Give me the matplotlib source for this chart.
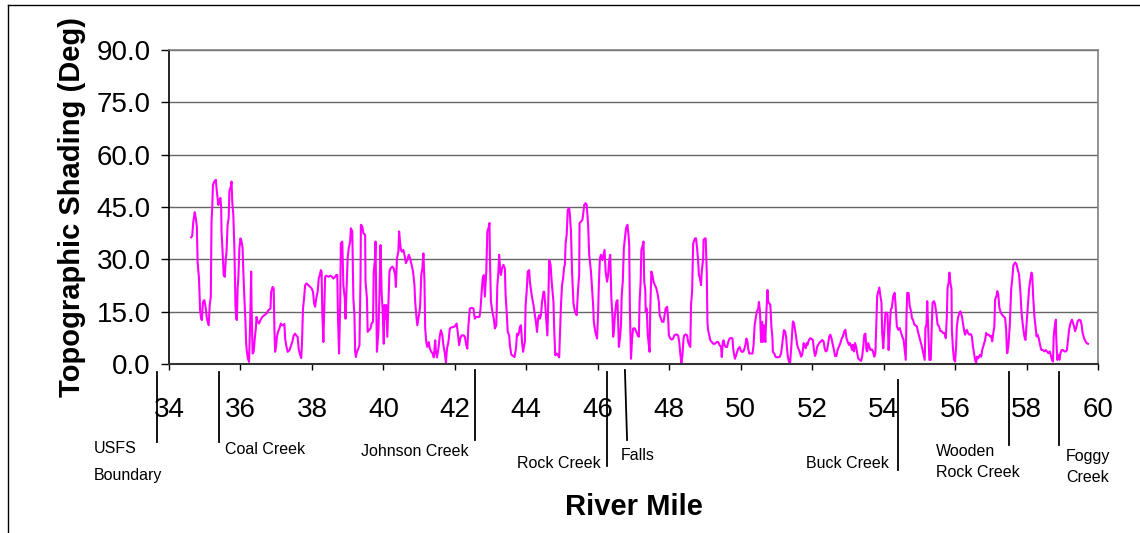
import matplotlib
matplotlib.use("Agg")
import matplotlib.pyplot as plt
from matplotlib.transforms import blended_transform_factory
from matplotlib.lines import Line2D

plt.rcParams['font.family'] = ['Liberation Sans', 'DejaVu Sans']

# ---------------- data: river mile vs topographic shading (deg) ----------------
mile_a = [34.62, 34.65, 34.68, 34.72, 34.75, 34.78, 34.80, 34.84, 34.87, 34.90, 34.92, 34.95, 34.99,
          35.03, 35.06, 35.11, 35.14, 35.17, 35.19, 35.21, 35.23, 35.27, 35.31, 35.33, 35.36, 35.38,
          35.41, 35.44, 35.46, 35.47, 35.50, 35.53, 35.56, 35.59, 35.61, 35.64, 35.67, 35.69, 35.73,
          35.75, 35.77, 35.80, 35.83, 35.86, 35.88, 35.90, 35.92, 35.94, 35.97, 36.00, 36.03, 36.06,
          36.08, 36.11, 36.14, 36.16, 36.18, 36.21, 36.24, 36.27, 36.30, 36.31, 36.34, 36.37, 36.40,
          36.43, 36.45, 36.48, 36.52, 36.56, 36.61, 36.67, 36.73, 36.78, 36.84, 36.86, 36.90, 36.93,
          36.95, 36.97, 37.00, 37.02, 37.05, 37.09, 37.13, 37.16, 37.20, 37.23, 37.25, 37.28, 37.32,
          37.37, 37.42, 37.45, 37.49, 37.53, 37.56, 37.60, 37.63, 37.66, 37.70, 37.72, 37.75, 37.78,
          37.81, 37.85, 37.90, 37.95, 37.99, 38.03, 38.06, 38.09, 38.12, 38.16, 38.19, 38.22, 38.25,
          38.27, 38.29, 38.32, 38.35, 38.37, 38.40, 38.46, 38.52, 38.56, 38.60]
shade_a = [36.3, 36.7, 40.8, 43.5, 41.8, 39.4, 29.3, 24.5, 15.4, 13.0, 12.6, 17.8, 18.3,
           15.9, 13.0, 11.1, 16.9, 19.3, 40.8, 44.7, 51.4, 52.3, 52.8, 50.4, 47.6, 45.6,
           47.0, 47.6, 44.7, 38.0, 32.2, 25.5, 25.0, 30.3, 32.2, 39.9, 41.8, 49.5, 50.9,
           52.3, 46.6, 42.8, 33.2, 16.9, 13.0, 12.6, 21.7, 24.5, 33.2, 36.0, 35.1, 33.2,
           26.5, 18.8, 12.1, 5.8, 3.5, 1.5, 0.6, 11.1, 26.5, 16.9, 3.0, 3.5, 7.3,
           10.2, 13.5, 12.1, 11.6, 12.6, 13.5, 14.0, 14.5, 15.4, 15.9, 20.7, 22.1, 21.7,
           10.2, 3.5, 5.4, 7.8, 9.2, 10.2, 11.6, 11.1, 11.1, 11.5, 7.3, 5.4, 3.5,
           3.9, 5.4, 6.3, 8.2, 8.7, 8.2, 7.8, 4.4, 3.0, 1.7, 5.4, 15.9, 18.8,
           22.6, 23.1, 22.6, 22.1, 21.7, 20.7, 17.4, 16.4, 18.8, 20.7, 24.5, 25.5, 26.9,
           26.5, 15.0, 6.3, 16.9, 25.0, 25.3, 25.0, 25.3, 25.0, 24.5]

mile_b = [38.65, 38.68, 38.71, 38.73, 38.76, 38.79, 38.81, 38.85, 38.88, 38.92, 38.94, 38.97, 39.00,
          39.03, 39.07, 39.09, 39.13, 39.16, 39.19, 39.21, 39.23, 39.26, 39.30, 39.33, 39.36, 39.37,
          39.41, 39.44, 39.49, 39.50, 39.54, 39.56, 39.60, 39.64, 39.67, 39.71, 39.73, 39.76, 39.78,
          39.80, 39.82, 39.86, 39.89, 39.92, 39.95, 39.98, 40.01, 40.03, 40.05, 40.08, 40.11, 40.14,
          40.17, 40.20, 40.25, 40.29, 40.33, 40.35, 40.38, 40.42, 40.44, 40.47, 40.49, 40.52, 40.56,
          40.60, 40.63, 40.67, 40.71, 40.75, 40.79, 40.83, 40.87, 40.89, 40.92, 40.95, 40.98, 41.01,
          41.03, 41.06, 41.09, 41.12, 41.15, 41.17, 41.20, 41.23, 41.27, 41.30, 41.34, 41.38, 41.41,
          41.45, 41.47, 41.50, 41.54, 41.58, 41.61, 41.65, 41.68, 41.72, 41.75, 41.78, 41.82, 41.86,
          41.91, 41.99, 42.05, 42.08, 42.12, 42.15, 42.19, 42.25, 42.28, 42.32, 42.35, 42.38, 42.42,
          42.47, 42.52, 42.56, 42.59, 42.64, 42.69, 42.72, 42.75, 42.78, 42.81]
shade_b = [25.0, 25.5, 25.5, 13.0, 3.0, 16.9, 34.6, 35.1, 22.6, 18.8, 13.0, 21.7, 30.3,
           33.2, 35.1, 38.9, 38.0, 18.8, 14.0, 3.5, 2.0, 3.5, 4.4, 5.4, 24.5, 39.9,
           39.4, 37.5, 37.0, 23.6, 18.8, 9.2, 9.7, 10.2, 11.6, 12.1, 26.5, 29.3, 35.1,
           17.8, 3.5, 9.2, 19.8, 34.1, 20.7, 15.0, 5.8, 16.9, 13.0, 16.9, 7.8, 16.9,
           26.5, 27.4, 27.9, 27.4, 25.5, 22.1, 30.3, 32.2, 38.0, 34.6, 32.7, 32.2, 32.7,
           30.8, 28.9, 29.8, 31.3, 30.3, 28.4, 26.5, 22.6, 17.8, 14.0, 11.1, 13.0, 15.0,
           16.9, 25.5, 27.4, 31.7, 23.6, 10.2, 6.3, 4.9, 6.3, 4.4, 3.5, 3.0, 1.9,
           6.8, 3.5, 1.9, 4.4, 8.2, 9.7, 8.2, 5.4, 3.0, 0.4, 4.4, 6.3, 10.2,
           10.5, 10.7, 11.6, 9.2, 5.4, 7.3, 8.2, 8.2, 7.8, 5.4, 4.4, 11.1, 15.9,
           16.1, 15.9, 13.0, 13.5, 13.5, 13.5, 15.9, 20.7, 24.5, 25.5]

mile_c = [42.84, 42.88, 42.91, 42.94, 42.97, 42.98, 43.01, 43.05, 43.09, 43.12, 43.16, 43.19, 43.22,
          43.24, 43.27, 43.29, 43.32, 43.36, 43.40, 43.42, 43.45, 43.48, 43.52, 43.54, 43.58, 43.63,
          43.67, 43.71, 43.74, 43.77, 43.80, 43.82, 43.85, 43.88, 43.91, 43.94, 43.96, 43.98, 44.01,
          44.04, 44.08, 44.10, 44.15, 44.20, 44.24, 44.28, 44.30, 44.33, 44.36, 44.38, 44.41, 44.44,
          44.48, 44.50, 44.53, 44.57, 44.59, 44.62, 44.64, 44.68, 44.71, 44.76, 44.78, 44.81, 44.85,
          44.89, 44.92, 44.94, 44.97, 45.00, 45.03, 45.06, 45.08, 45.10, 45.13, 45.16, 45.20, 45.22,
          45.25, 45.28, 45.32, 45.36, 45.41, 45.45, 45.48, 45.49, 45.53, 45.57, 45.60, 45.62, 45.66,
          45.69, 45.73, 45.76, 45.81, 45.84, 45.87, 45.89, 45.93, 45.98, 46.01, 46.03, 46.06, 46.09,
          46.13, 46.16, 46.19, 46.22, 46.26, 46.29, 46.32, 46.35, 46.38, 46.41, 46.43, 46.45, 46.48,
          46.52, 46.55, 46.58, 46.59, 46.62, 46.65, 46.67, 46.70, 46.73, 46.76, 46.79, 46.83, 46.86,
          46.88, 46.90, 46.93, 46.96, 46.99]
shade_c = [19.3, 26.5, 38.0, 38.9, 40.4, 31.3, 17.8, 15.0, 13.0, 10.2, 11.1, 22.6, 26.5,
           31.3, 26.5, 25.5, 27.4, 28.4, 27.4, 19.8, 15.0, 9.2, 8.2, 5.4, 2.7, 2.3,
           2.0, 4.4, 8.7, 8.2, 9.2, 10.6, 11.1, 6.3, 3.5, 5.4, 6.3, 16.9, 20.7,
           26.5, 26.9, 23.6, 19.8, 16.9, 14.0, 11.1, 9.2, 13.0, 14.0, 13.0, 14.0, 17.8,
           20.7, 20.7, 16.9, 11.1, 8.2, 19.8, 29.8, 28.4, 23.6, 17.8, 10.2, 2.5, 3.0,
           2.5, 1.9, 8.2, 16.9, 22.6, 24.5, 27.9, 28.4, 34.6, 37.0, 44.2, 44.7, 42.8,
           38.0, 26.5, 17.4, 15.0, 14.0, 21.7, 25.5, 40.4, 40.8, 41.3, 43.7, 45.6, 46.1,
           45.6, 39.9, 31.3, 26.5, 21.7, 16.9, 12.1, 9.2, 7.3, 15.0, 22.6, 30.3, 31.3,
           29.8, 31.3, 32.7, 26.5, 23.6, 25.5, 29.8, 31.3, 18.8, 14.0, 7.8, 9.2, 14.0,
           17.8, 18.3, 9.2, 4.9, 7.3, 11.1, 19.8, 23.6, 33.2, 36.0, 38.9, 39.9, 37.0,
           34.1, 15.0, 1.5, 7.3, 10.2]

mile_d = [47.04, 47.08, 47.12, 47.15, 47.17, 47.20, 47.22, 47.25, 47.28, 47.30, 47.33, 47.34, 47.37,
          47.40, 47.42, 47.45, 47.47, 47.50, 47.53, 47.56, 47.60, 47.64, 47.68, 47.71, 47.73, 47.77,
          47.80, 47.84, 47.87, 47.90, 47.94, 47.97, 47.99, 48.03, 48.07, 48.11, 48.14, 48.20, 48.25,
          48.28, 48.31, 48.34, 48.37, 48.40, 48.42, 48.46, 48.50, 48.53, 48.56, 48.59, 48.61, 48.64,
          48.67, 48.69, 48.72, 48.75, 48.78, 48.81, 48.83, 48.86, 48.89, 48.91, 48.95, 48.96, 49.00,
          49.02, 49.05, 49.07, 49.09, 49.12, 49.15, 49.19, 49.23, 49.28, 49.33, 49.37, 49.41, 49.45,
          49.47, 49.50, 49.52, 49.55, 49.58, 49.62, 49.65, 49.69, 49.73, 49.77, 49.79, 49.81, 49.84,
          49.87, 49.90, 49.93, 49.97, 50.00, 50.03, 50.06, 50.09, 50.13, 50.16, 50.19, 50.21, 50.24,
          50.28, 50.33, 50.36, 50.39, 50.42, 50.45, 50.49, 50.51, 50.54, 50.57, 50.60, 50.62, 50.65,
          50.69, 50.72, 50.75, 50.77, 50.80, 50.83, 50.86, 50.89, 50.90, 50.94, 50.98, 51.04, 51.09,
          51.13, 51.16, 51.18, 51.21]
shade_d = [10.2, 9.2, 8.2, 7.8, 17.8, 23.6, 32.7, 33.7, 35.1, 23.6, 21.2, 15.0, 15.9,
           8.2, 6.3, 3.5, 15.9, 26.5, 25.5, 23.6, 22.6, 21.7, 19.8, 17.8, 14.0, 13.0,
           12.1, 12.1, 14.0, 15.9, 16.4, 13.0, 8.2, 7.3, 7.0, 7.3, 8.2, 8.5, 8.2,
           6.3, 3.0, 0.1, 2.5, 7.3, 8.2, 8.5, 8.2, 6.3, 5.4, 4.9, 16.9, 20.7,
           34.6, 35.1, 36.0, 36.0, 33.2, 29.3, 25.5, 24.5, 22.6, 26.5, 30.3, 35.6, 36.0,
           36.0, 26.5, 11.6, 9.7, 8.2, 6.8, 6.3, 5.8, 5.8, 6.3, 6.3, 5.4, 4.9,
           2.0, 6.3, 6.8, 5.4, 4.9, 4.9, 6.3, 7.3, 7.5, 7.3, 4.4, 3.0, 1.5,
           2.5, 3.5, 4.4, 4.9, 3.9, 3.5, 3.5, 3.9, 5.4, 7.3, 6.3, 4.4, 3.0,
           3.0, 3.0, 5.4, 11.1, 13.0, 15.0, 15.9, 17.8, 15.0, 6.3, 12.1, 6.3, 11.1,
           6.3, 15.0, 21.2, 17.8, 17.4, 16.9, 10.6, 7.3, 3.5, 3.0, 2.0, 1.9, 2.0,
           3.0, 5.4, 7.3, 9.7]

mile_e = [51.24, 51.27, 51.30, 51.32, 51.35, 51.38, 51.41, 51.44, 51.46, 51.49, 51.52, 51.55, 51.58,
          51.61, 51.65, 51.69, 51.72, 51.74, 51.76, 51.79, 51.82, 51.85, 51.87, 51.91, 51.95, 51.99,
          52.02, 52.05, 52.08, 52.11, 52.14, 52.17, 52.21, 52.25, 52.28, 52.32, 52.35, 52.38, 52.42,
          52.44, 52.48, 52.51, 52.54, 52.57, 52.61, 52.64, 52.68, 52.71, 52.75, 52.79, 52.83, 52.86,
          52.90, 52.93, 52.96, 52.99, 53.03, 53.06, 53.09, 53.12, 53.14, 53.17, 53.20, 53.23, 53.26,
          53.29, 53.33, 53.37, 53.40, 53.43, 53.46, 53.49, 53.52, 53.54, 53.57, 53.60, 53.63, 53.67,
          53.70, 53.74, 53.77, 53.79, 53.82, 53.84, 53.88, 53.91, 53.94, 53.96, 53.99, 54.02, 54.05,
          54.09, 54.11, 54.14, 54.17, 54.20, 54.23, 54.27, 54.31, 54.34, 54.37, 54.41, 54.45, 54.49,
          54.52, 54.56, 54.59, 54.62, 54.64, 54.66, 54.70, 54.73, 54.77, 54.79, 54.82, 54.86, 54.90,
          54.93, 54.97, 55.02, 55.07, 55.11, 55.15, 55.17, 55.20, 55.22, 55.25, 55.28, 55.32, 55.35,
          55.37, 55.41]
shade_e = [9.4, 7.9, 4.0, 2.1, 0.7, 0.0, 4.0, 8.9, 12.2, 11.8, 9.8, 7.9, 5.5,
           4.5, 3.6, 2.1, 2.6, 4.0, 6.0, 5.5, 4.5, 6.0, 5.5, 6.9, 7.4, 7.1,
           6.9, 4.0, 2.3, 3.1, 5.0, 5.5, 6.2, 6.5, 6.9, 6.5, 4.5, 3.6, 4.0,
           5.5, 7.9, 8.4, 7.4, 6.0, 4.0, 2.3, 2.3, 4.0, 5.0, 6.0, 7.4, 7.9,
           9.4, 9.8, 7.4, 6.5, 5.5, 6.0, 5.0, 4.0, 5.5, 3.6, 6.0, 5.0, 3.1,
           1.6, 1.2, 0.9, 2.1, 5.0, 8.4, 8.7, 4.0, 3.6, 6.0, 5.0, 4.0, 4.2,
           3.6, 2.1, 3.1, 9.8, 19.5, 20.4, 21.9, 19.5, 17.6, 8.9, 4.5, 9.8, 14.7,
           14.7, 14.2, 4.0, 10.3, 15.6, 16.1, 19.5, 20.4, 16.1, 10.8, 9.8, 10.3, 8.9,
           7.9, 6.9, 4.0, 1.2, 13.7, 20.4, 20.3, 16.6, 15.1, 13.2, 12.7, 11.3, 11.0,
           10.8, 8.9, 6.9, 5.0, 3.1, 1.2, 10.3, 11.3, 18.0, 9.8, 1.2, 1.2, 11.8,
           17.6, 18.0]

mile_f = [55.44, 55.48, 55.51, 55.55, 55.59, 55.63, 55.66, 55.70, 55.74, 55.77, 55.79, 55.82, 55.84,
          55.87, 55.90, 55.91, 55.94, 55.97, 56.00, 56.03, 56.05, 56.08, 56.12, 56.15, 56.19, 56.22,
          56.25, 56.28, 56.31, 56.33, 56.36, 56.40, 56.44, 56.47, 56.50, 56.53, 56.56, 56.59, 56.61,
          56.65, 56.69, 56.73, 56.76, 56.80, 56.84, 56.87, 56.90, 56.94, 56.98, 57.01, 57.04, 57.07,
          57.10, 57.12, 57.16, 57.18, 57.21, 57.24, 57.28, 57.31, 57.35, 57.40, 57.43, 57.45, 57.46,
          57.49, 57.53, 57.57, 57.60, 57.63, 57.68, 57.72, 57.75, 57.79, 57.83, 57.86, 57.90, 57.94,
          57.97, 57.99, 58.03, 58.07, 58.10, 58.14, 58.16, 58.19, 58.22, 58.26, 58.28, 58.31, 58.34,
          58.37, 58.40, 58.42, 58.46, 58.50, 58.54, 58.57, 58.61, 58.65, 58.69, 58.71, 58.74, 58.76,
          58.79, 58.82, 58.83, 58.86, 58.89, 58.92, 58.95, 58.98, 59.02, 59.06, 59.10, 59.13, 59.16,
          59.19, 59.22, 59.25, 59.27, 59.30, 59.33, 59.36, 59.40, 59.43, 59.47, 59.51, 59.54, 59.57,
          59.61, 59.65, 59.68, 59.72]
shade_f = [17.1, 14.2, 11.3, 10.8, 9.4, 9.4, 8.9, 8.9, 7.4, 13.7, 21.9, 23.3, 26.2,
           23.3, 21.4, 9.8, 4.5, 1.2, 0.7, 5.0, 10.8, 13.2, 14.7, 15.1, 13.7, 11.8,
           9.8, 8.4, 9.4, 9.8, 8.9, 8.4, 8.6, 7.9, 5.0, 3.1, 1.2, 0.2, 2.1,
           1.6, 2.6, 2.1, 4.0, 5.5, 6.9, 8.9, 8.4, 8.4, 7.9, 8.1, 6.5, 8.9,
           10.8, 18.5, 19.5, 20.9, 19.9, 16.1, 14.7, 14.2, 13.7, 13.2, 9.8, 4.0, 3.1,
           5.0, 10.8, 21.4, 24.3, 28.2, 29.1, 28.6, 27.2, 25.7, 20.4, 14.7, 10.8, 7.9,
           6.9, 9.8, 15.6, 21.4, 23.8, 26.2, 25.3, 18.5, 13.7, 9.8, 7.9, 8.4, 7.4,
           6.0, 4.5, 4.0, 4.0, 3.6, 4.0, 3.6, 3.1, 3.6, 2.1, 1.2, 0.7, 7.9,
           10.8, 12.7, 7.9, 1.2, 2.6, 1.2, 3.1, 4.0, 4.0, 3.6, 3.6, 4.0, 6.9,
           9.8, 11.3, 12.2, 12.7, 11.8, 10.8, 9.4, 10.8, 12.2, 12.7, 12.5, 11.3, 8.9,
           7.4, 6.5, 6.0, 5.8]

river_mile = mile_a + mile_b + mile_c + mile_d + mile_e + mile_f
shading = shade_a + shade_b + shade_c + shade_d + shade_e + shade_f

y_ticks = [0, 15, 30, 45, 60, 75, 90]
x_ticks = list(range(34, 61, 2))

# landmarks: name, river mile
landmark_names = ["USFS\nBoundary", "Coal Creek", "Johnson Creek", "Rock Creek", "Falls",
                  "Buck Creek", "Wooden\nRock Creek", "Foggy\nCreek"]
landmark_miles = [33.67, 35.41, 42.57, 46.27, 46.79, 54.41, 57.52, 58.92]

# ---------------- figure ----------------
W, H = 1140, 533
fig = plt.figure(figsize=(W / 100, H / 100), dpi=100)
fig.patch.set_facecolor('white')

L, R, T, B = 169, 1098, 50, 364
ax = fig.add_axes([L / W, 1 - B / H, (R - L) / W, (B - T) / H])

ax.plot(river_mile, shading, color='#FF00FF', lw=1.5, solid_joinstyle='round')

ax.set_xlim(34, 60)
ax.set_ylim(0, 90)
ax.set_yticks(y_ticks)
ax.set_yticklabels([f"{v:.1f}" for v in y_ticks])
ax.set_xticks(x_ticks)
ax.set_xticklabels([str(v) for v in x_ticks])

ax.grid(axis='y', color='#666666', lw=1.0)
ax.set_axisbelow(True)
for s in ['top', 'right']:
    ax.spines[s].set_color('#808080')
    ax.spines[s].set_linewidth(1.2)
ax.spines['left'].set_color('black')
ax.spines['left'].set_linewidth(1.2)
ax.spines['bottom'].set_color('#333333')
ax.spines['bottom'].set_linewidth(1.5)

ax.tick_params(axis='y', direction='out', length=6, width=1, color='black',
               labelsize=20, pad=7)
ax.tick_params(axis='x', direction='out', length=4.5, width=1, color='black',
               labelsize=20, pad=19)

ax.set_ylabel("Topographic Shading (Deg)", fontsize=21, fontweight='bold', labelpad=8)
fig.text(0.5 * (L + R) / W, 1 - 507 / H, "River Mile", fontsize=21, fontweight='bold',
         ha='center', va='center')

# landmark lines (x in data, y in figure pixels)
tr = blended_transform_factory(ax.transData, fig.transFigure)
line_top = [372, 372, 370, 372, 370, 380, 372, 372]
line_bot = [442, 442, 440, 466, 440, 470, 445, 445]
for m, t, b in zip(landmark_miles, line_top, line_bot):
    slant = 0.03 if m == 46.79 else 0.0
    fig.add_artist(Line2D([m - slant, m + slant], [1 - t / H, 1 - b / H], transform=tr,
                          color='black', lw=1.3))

# label anchor x (pixels), alignment, centre y (pixels), line spacing
text_x = [94, 225, 469, 601, 621, 889, 936, 1066]
text_ha = ['left', 'left', 'right', 'right', 'left', 'right', 'left', 'left']
text_y = [462, 449, 452, 463, 455, 463, 462, 467]
text_ls = [1.95, 1.2, 1.2, 1.2, 1.2, 1.2, 1.5, 1.5]
for name, x, ha, y, ls in zip(landmark_names, text_x, text_ha, text_y, text_ls):
    fig.text(x / W, 1 - y / H, name, fontsize=11.5, ha=ha, va='center',
             linespacing=ls, multialignment='left')

# outer frame (left and top edges only)
fig.add_artist(Line2D([8 / W, 8 / W], [1 - 5 / H, 0], transform=fig.transFigure, color='black', lw=1))
fig.add_artist(Line2D([8 / W, 1.0], [1 - 5 / H, 1 - 5 / H], transform=fig.transFigure, color='black', lw=1))

fig.savefig("out.png", dpi=100)
